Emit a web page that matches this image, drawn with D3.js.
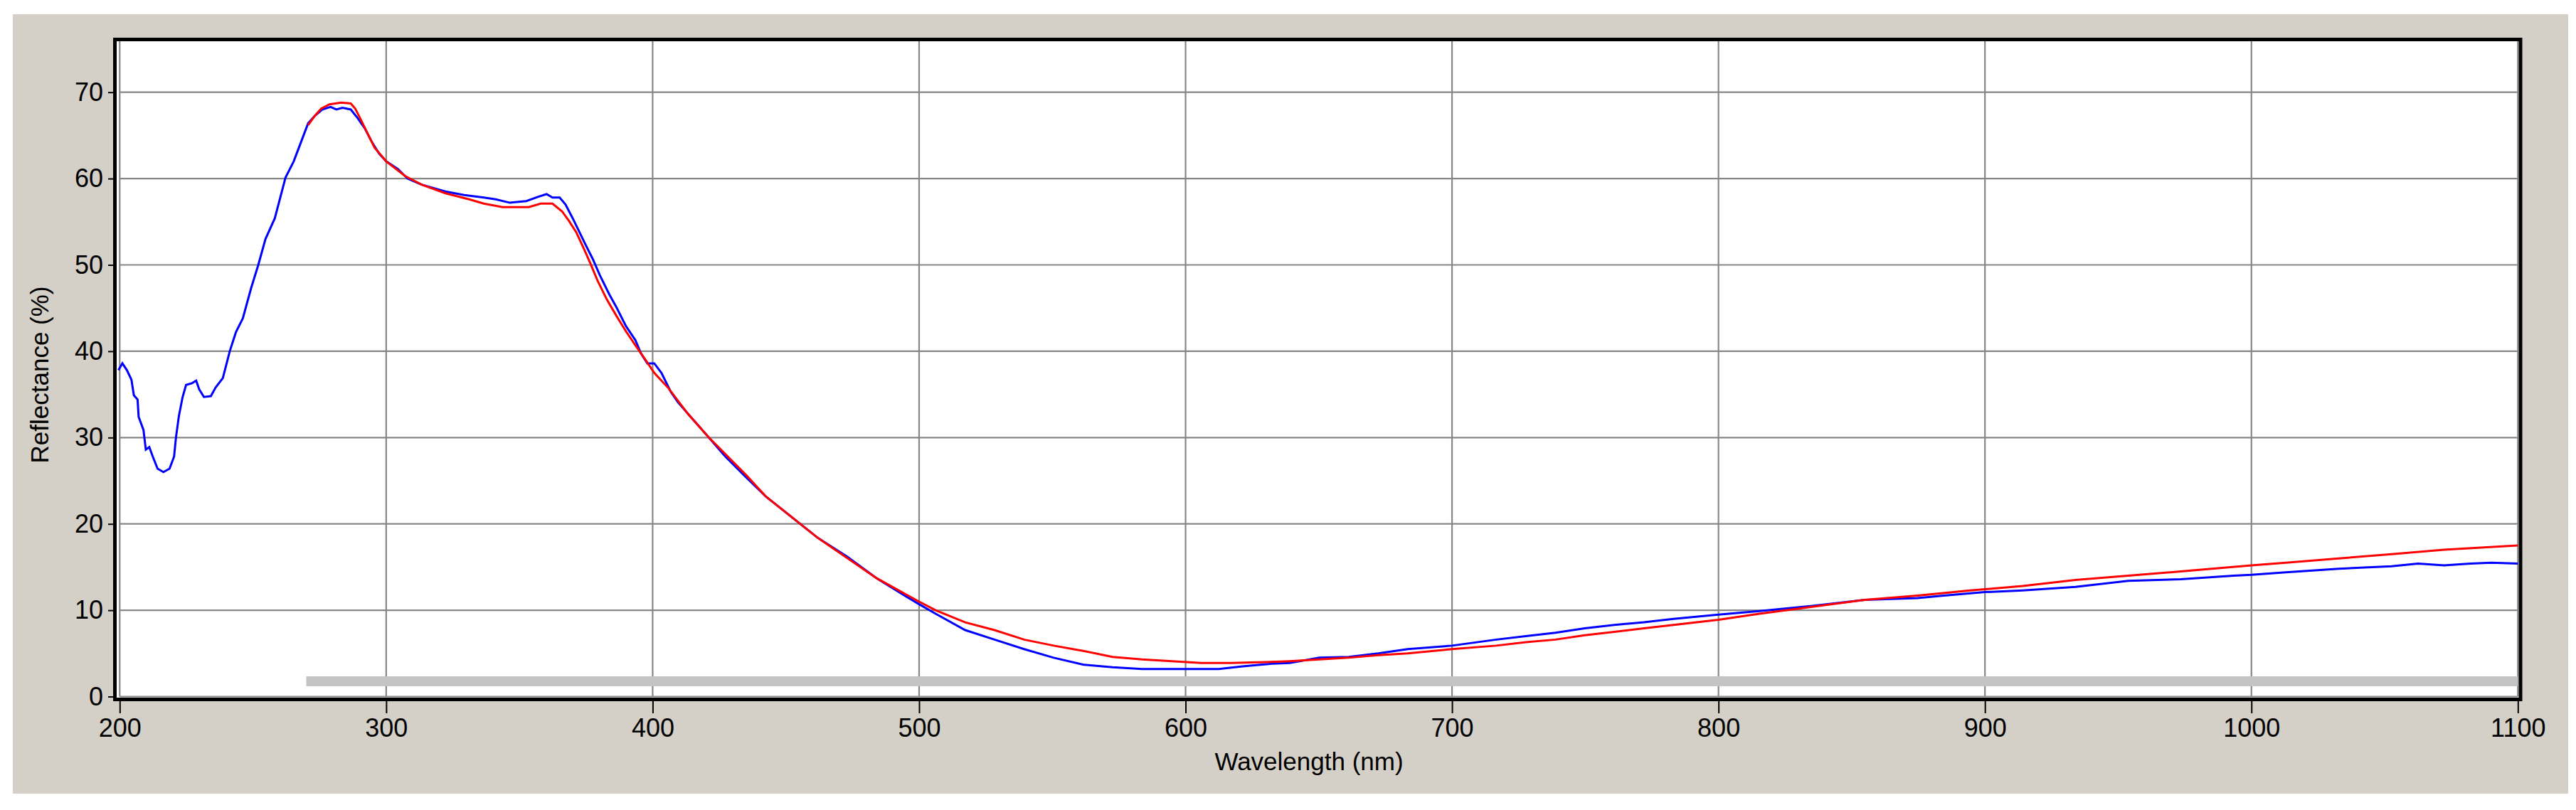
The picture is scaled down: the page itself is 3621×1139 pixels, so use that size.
<!DOCTYPE html>
<html>
<head>
<meta charset="utf-8">
<script src="https://cdn.jsdelivr.net/npm/d3@7"></script>
<style>
  html, body { margin: 0; padding: 0; background: #ffffff; }
  svg { display: block; font-family: "Liberation Sans", Arial, sans-serif; }
</style>
</head>
<body>
<div id="chart"></div>
<script>
// wavelength ticks and reflectance ticks
const xTicks = [200, 300, 400, 500, 600, 700, 800, 900, 1000, 1100];
const yTicks = [0, 10, 20, 30, 40, 50, 60, 70];

// highlighted fit range (nm)
const fitRange = [270, 1100];

// measured spectrum (blue): [nm, %R]
const measured = [
  [199.5, 37.8], [201, 38.6], [202.7, 37.8], [204.4, 36.7], [205.3, 34.9], [206.7, 34.4],
  [207.1, 32.4], [208.9, 30.9], [209.8, 28.6], [211.1, 28.9], [212.4, 27.8], [214.2, 26.4],
  [216.4, 26.0], [218.7, 26.4], [220.4, 27.8], [221.1, 30.0], [222.2, 32.5], [223.6, 34.7],
  [224.9, 36.1], [227.1, 36.3], [228.7, 36.6], [229.8, 35.6], [231.6, 34.7], [234.2, 34.8],
  [236, 35.8], [238.7, 36.9], [241.3, 40.0], [243.6, 42.2], [246.2, 43.8], [249.3, 47.3],
  [252, 50.0], [254.7, 53.0], [258.2, 55.4], [262.2, 60.1], [265.3, 62.0], [268, 64.2],
  [270.7, 66.4], [273.3, 67.3], [276, 68.0], [279.1, 68.3], [281.3, 68.0], [283.6, 68.2],
  [286.7, 68.0], [289.3, 67.0], [292, 65.8], [294.7, 64.2], [297.3, 62.9], [300, 62.0],
  [304.4, 61.1], [308, 60.0], [313.3, 59.3], [322.2, 58.5], [329.3, 58.1], [336.6, 57.8],
  [341.1, 57.6], [346.4, 57.2], [352.6, 57.4], [357.1, 57.9], [360.2, 58.2], [362.4, 57.8],
  [365.1, 57.8], [367.3, 57.0], [370, 55.4], [372.2, 54.0], [374.9, 52.3], [377.5, 50.7],
  [380.2, 48.8], [383.7, 46.6], [386.4, 45.1], [390, 42.9], [393.5, 41.3], [395.7, 39.7],
  [398, 38.6], [400.6, 38.6], [403.3, 37.5], [406.8, 35.3], [409.5, 34.1], [414, 32.5],
  [421.1, 30.0], [427.3, 27.8], [434.4, 25.6], [442.4, 23.2], [461.9, 18.4], [473, 16.2],
  [484.1, 13.7], [495.1, 11.6], [500, 10.7], [506.2, 9.6], [517.3, 7.7], [528.3, 6.6],
  [539.4, 5.5], [550.5, 4.5], [561.5, 3.7], [572.6, 3.4], [583.7, 3.2], [599.9, 3.2],
  [612.5, 3.2], [621.4, 3.5], [632.4, 3.8], [639.1, 3.9], [650.2, 4.5], [661.2, 4.6],
  [672.3, 5.0], [683.4, 5.5], [700, 5.9], [716.6, 6.6], [727.7, 7.0], [738.8, 7.4],
  [749.8, 7.9], [760.9, 8.3], [772, 8.6], [783.1, 9.0], [800, 9.5], [815.4, 9.9],
  [835.2, 10.5], [854.9, 11.2], [874.7, 11.4], [884.6, 11.7], [900, 12.1], [914.2, 12.3],
  [934, 12.7], [953.8, 13.4], [973.5, 13.6], [993.3, 14.0], [1000, 14.1], [1013, 14.4],
  [1032.8, 14.8], [1052.6, 15.1], [1062.5, 15.4], [1072.3, 15.2], [1082.2, 15.4],
  [1090.1, 15.5], [1100, 15.4]
];

// fitted spectrum (red): [nm, %R]
const fitted = [
  [270.7, 66.2], [273.3, 67.3], [275.6, 68.1], [278.7, 68.6], [283.1, 68.8], [286.7, 68.7],
  [288.4, 68.1], [290.2, 67.0], [292.9, 65.3], [295.6, 63.6], [300, 62.0], [307.1, 60.3],
  [313.3, 59.3], [322.2, 58.3], [331.1, 57.6], [336.6, 57.1], [343.7, 56.7], [353.5, 56.7],
  [358, 57.1], [362.4, 57.1], [366, 56.2], [368.6, 55.1], [371.3, 53.8], [374, 52.0],
  [376.6, 50.2], [379.3, 48.2], [382.8, 46.0], [386.4, 44.1], [390, 42.3], [393.5, 40.7],
  [397.1, 39.1], [400.6, 37.5], [406, 35.7], [413.1, 32.8], [421.1, 30.0], [428.2, 27.8],
  [435.3, 25.6], [442.4, 23.2], [461.9, 18.4], [484.1, 13.7], [500, 11.0], [506.2, 10.0],
  [517.3, 8.6], [528.3, 7.7], [539.4, 6.6], [550.5, 5.9], [561.5, 5.3], [572.6, 4.6],
  [583.7, 4.3], [594.8, 4.1], [605.9, 3.9], [617, 3.9], [630.2, 4.0], [639.1, 4.1],
  [650.2, 4.3], [661.2, 4.5], [672.3, 4.8], [683.4, 5.0], [700, 5.5], [716.6, 5.9],
  [727.7, 6.3], [738.8, 6.6], [749.8, 7.1], [760.9, 7.5], [772, 7.9], [783.1, 8.3],
  [800, 8.9], [815.4, 9.6], [835.2, 10.4], [854.9, 11.2], [874.7, 11.7], [894.5, 12.3],
  [914.2, 12.8], [934, 13.5], [953.8, 14.0], [973.5, 14.5], [1000, 15.2], [1013, 15.5],
  [1032.8, 16.0], [1052.6, 16.5], [1072.3, 17.0], [1100, 17.5]
];

const width = 3621, height = 1139;

const svg = d3.select("#chart").append("svg")
    .attr("width", width)
    .attr("height", height);

// grey window panel
svg.append("rect")
    .attr("x", 18).attr("y", 20)
    .attr("width", 3592).attr("height", 1096)
    .attr("fill", "#d4d0c8");

const x = d3.scaleLinear().domain([200, 1100]).range([168.3, 3539.3]);
const y = d3.scaleLinear().domain([0, 76]).range([979.5, 979.5 - 76 * 12.14]);

// plot background
svg.append("rect")
    .attr("x", 161).attr("y", 55)
    .attr("width", 3382).attr("height", 929)
    .attr("fill", "#ffffff");

svg.append("defs").append("clipPath").attr("id", "clip")
  .append("rect")
    .attr("x", 164).attr("y", y(76))
    .attr("width", x(1100) - 164 + 1).attr("height", y(0) - y(76) + 1);

// grid
const grid = svg.append("g").attr("stroke", "#878787").attr("stroke-width", 2.2);
grid.selectAll(".vgrid")
  .data(xTicks)
  .enter()
  .append("line")
    .attr("x1", d => x(d)).attr("x2", d => x(d))
    .attr("y1", y(76)).attr("y2", y(0));
grid.selectAll(".hgrid")
  .data(yTicks)
  .enter()
  .append("line")
    .attr("x1", x(200)).attr("x2", x(1100))
    .attr("y1", d => y(d)).attr("y2", d => y(d));

// fit range bar
svg.append("rect")
    .attr("x", x(fitRange[0]))
    .attr("y", y(2.35))
    .attr("width", x(fitRange[1]) - x(fitRange[0]))
    .attr("height", y(1.2) - y(2.35))
    .attr("fill", "#c4c4c4");

const line = d3.line()
    .x(d => x(d[0]))
    .y(d => y(d[1]));

const plot = svg.append("g").attr("clip-path", "url(#clip)");

plot.append("path")
    .datum(measured)
    .attr("fill", "none")
    .attr("stroke", "#0000ff")
    .attr("stroke-width", 3)
    .attr("d", line);

plot.append("path")
    .datum(fitted)
    .attr("fill", "none")
    .attr("stroke", "#ff0000")
    .attr("stroke-width", 3)
    .attr("d", line);

// frame
svg.append("rect")
    .attr("x", 161.5).attr("y", 55.5)
    .attr("width", 3381.5).attr("height", 928)
    .attr("fill", "none")
    .attr("stroke", "#000000")
    .attr("stroke-width", 5);

// axes
const xAxis = svg.append("g")
    .attr("transform", "translate(0,986)")
    .call(d3.axisBottom(x).tickValues(xTicks).tickSize(17).tickPadding(7).tickFormat(d3.format("d")));

const yAxis = svg.append("g")
    .attr("transform", "translate(159,0)")
    .call(d3.axisLeft(y).tickValues(yTicks).tickSize(7).tickPadding(7).tickFormat(d3.format("d")));

[xAxis, yAxis].forEach(a => {
    a.select(".domain").remove();
    a.selectAll(".tick line").attr("stroke", "#000").attr("stroke-width", 2);
    a.selectAll(".tick text")
        .attr("fill", "#000")
        .style("font-family", "'Liberation Sans', Arial, sans-serif")
        .style("font-size", "36px");
});

// axis titles
svg.append("text")
    .attr("x", 1840).attr("y", 1083)
    .attr("text-anchor", "middle")
    .style("font-size", "35px")
    .attr("fill", "#000")
    .text("Wavelength (nm)");

svg.append("text")
    .attr("transform", "translate(68,527) rotate(-90)")
    .attr("text-anchor", "middle")
    .style("font-size", "35px")
    .attr("fill", "#000")
    .text("Reflectance (%)");
</script>
</body>
</html>
